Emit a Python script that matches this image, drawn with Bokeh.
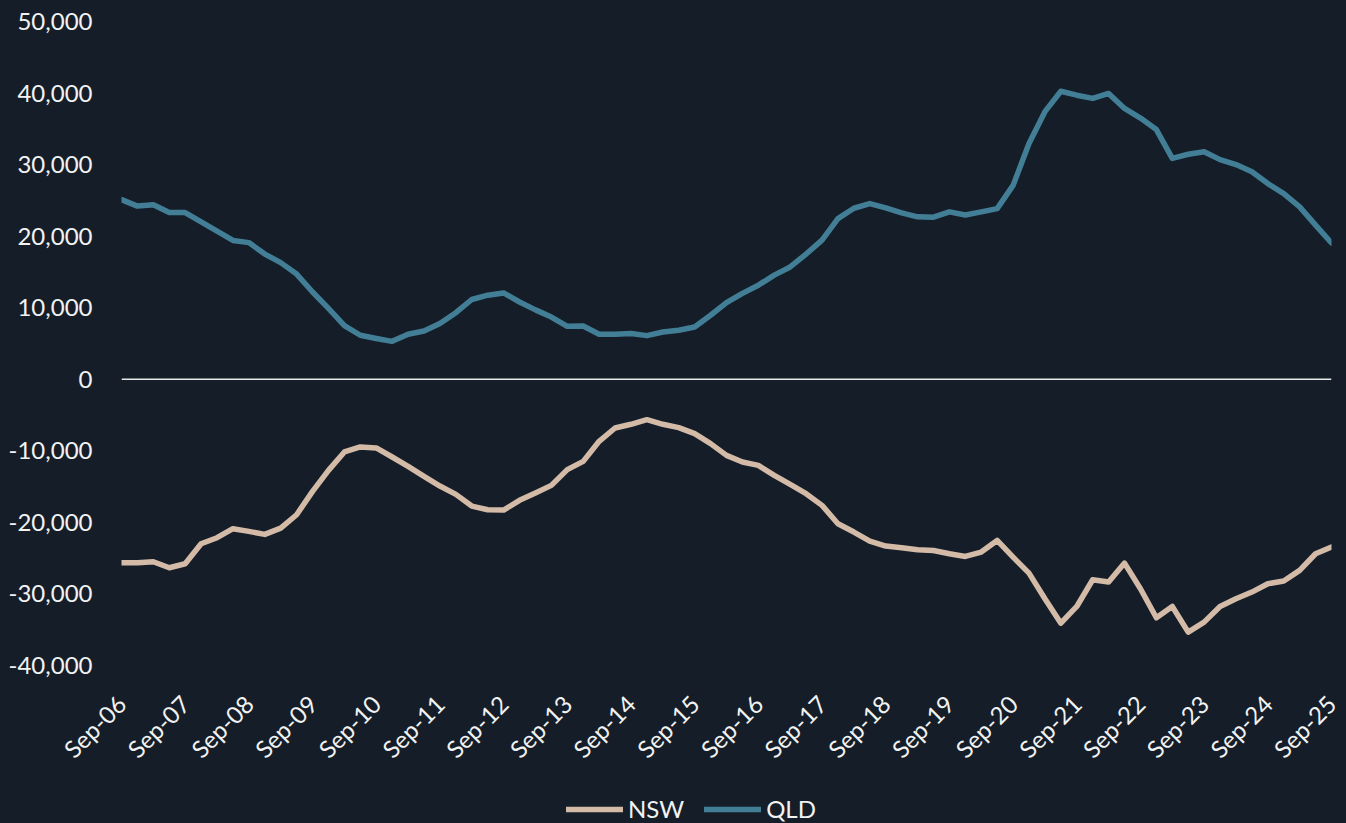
from bokeh.plotting import figure
from bokeh.layouts import column
from bokeh.models import (Range1d, FixedTicker, NumeralTickFormatter, Span,
                          Legend, LegendItem, GlobalInlineStyleSheet)
from bokeh.embed import file_html
from bokeh.resources import INLINE

# Quarterly net interstate migration, Sep-06 .. Sep-25
tick_labels = ["Sep-06", "Sep-07", "Sep-08", "Sep-09", "Sep-10", "Sep-11", "Sep-12",
               "Sep-13", "Sep-14", "Sep-15", "Sep-16", "Sep-17", "Sep-18", "Sep-19",
               "Sep-20", "Sep-21", "Sep-22", "Sep-23", "Sep-24", "Sep-25"]

qld = [25100, 24200, 24400, 23300, 23300, 22000, 20700, 19400, 19100, 17500,
       16300, 14700, 12200, 9900, 7500, 6150, 5700, 5300, 6300, 6750,
       7800, 9300, 11150, 11750, 12070, 10800, 9700, 8700, 7400, 7450,
       6300, 6300, 6400, 6100, 6600, 6850, 7300, 8950, 10700, 12000,
       13150, 14550, 15700, 17500, 19450, 22450, 23900, 24550, 23950, 23250,
       22700, 22650, 23400, 22950, 23400, 23850, 27100, 32950, 37400, 40250,
       39700, 39250, 39950, 37850, 36500, 34900, 30870, 31450, 31800, 30700,
       30000, 29000, 27350, 25950, 24100, 21550, 19050]

nsw = [-25640, -25640, -25500, -26340, -25780, -22980, -22140, -20880, -21260, -21680,
       -20800, -18930, -15660, -12730, -10160, -9460, -9600, -10860, -12170, -13570,
       -14920, -16080, -17720, -18230, -18280, -16920, -15900, -14830, -12630, -11470,
       -8670, -6810, -6290, -5640, -6290, -6760, -7600, -8990, -10630, -11560,
       -12030, -13430, -14690, -15990, -17620, -20190, -21350, -22610, -23310, -23540,
       -23820, -23920, -24380, -24760, -24150, -22520, -24850, -27090, -30680, -34080,
       -31750, -28020, -28340, -25690, -29280, -33330, -31750, -35340, -33940, -31750,
       -30680, -29740, -28580, -28200, -26710, -24380, -23450]

series_names = ["NSW", "QLD"]
series_colors = ["#d4bba8", "#427f97"]

BG = "#151e28"
TXT = "#f2f2f2"
FONT = "Lato"
FS = "24px"

x = list(range(len(qld)))

# ---------------- main chart ----------------
p = figure(width=1346, height=790, output_backend="svg", toolbar_location=None,
           x_range=Range1d(0, len(qld) - 1), y_range=Range1d(-40000, 50000),
           min_border_left=121, min_border_right=15, min_border_top=21,
           min_border_bottom=125)
p.background_fill_color = BG
p.border_fill_color = BG
p.outline_line_color = None
p.grid.grid_line_color = None
p.stylesheets = [GlobalInlineStyleSheet(css="html, body { background-color: %s; }" % BG)]

p.yaxis.ticker = FixedTicker(ticks=list(range(-40000, 50001, 10000)))
p.yaxis.formatter = NumeralTickFormatter(format="0,0")
p.xaxis.ticker = FixedTicker(ticks=[4 * i for i in range(len(tick_labels))])
p.xaxis.major_label_overrides = {4 * i: lab for i, lab in enumerate(tick_labels)}
p.xaxis.major_label_orientation = 0.785398
for ax in (p.xaxis, p.yaxis):
    ax.axis_line_color = None
    ax.major_tick_line_color = None
    ax.minor_tick_line_color = None
    ax.major_tick_out = 0
    ax.major_tick_in = 0
    ax.minor_tick_out = 0
    ax.minor_tick_in = 0
    ax.major_label_text_color = TXT
    ax.major_label_text_font = FONT
    ax.major_label_text_font_size = FS
p.yaxis.major_label_standoff = 29
p.xaxis.major_label_standoff = 34

p.add_layout(Span(location=0, dimension="width", line_color="#e8e8e8", line_width=1.5))

p.line(x, nsw, line_color=series_colors[0], line_width=5.5, line_join="round", line_cap="round")
p.line(x, qld, line_color=series_colors[1], line_width=5.5, line_join="round", line_cap="round")

# ---------------- legend strip ----------------
lg = figure(width=1346, height=33, output_backend="svg", toolbar_location=None,
            x_range=Range1d(0, 1), y_range=Range1d(0, 1),
            x_axis_location=None, y_axis_location=None,
            min_border_left=0, min_border_right=0, min_border_top=0, min_border_bottom=0)
lg.background_fill_color = BG
lg.border_fill_color = BG
lg.outline_line_color = None
lg.grid.grid_line_color = None

items = []
for name, col in zip(series_names, series_colors):
    # off-range stub so that the legend has a renderer to draw its swatch from
    r = lg.line([-2, -1], [-2, -1], line_color=col, line_width=5.5, line_cap="round")
    items.append(LegendItem(label=name, renderers=[r]))

legend = Legend(items=items, location=(445, 0), orientation="horizontal",
                glyph_width=57, glyph_height=20, label_standoff=5, spacing=20,
                padding=0, margin=0, background_fill_alpha=0, border_line_alpha=0,
                label_text_font=FONT, label_text_font_size=FS, label_text_color=TXT)
lg.add_layout(legend, "center")

layout = column(p, lg, spacing=0)

open("out.html", "w").write(file_html(layout, INLINE))
